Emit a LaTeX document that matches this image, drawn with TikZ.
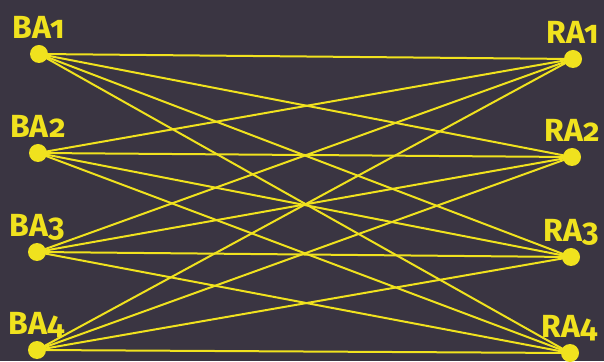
\documentclass[tikz,border=0pt]{standalone}
\usepackage{fontspec}
\setsansfont[Numbers=OldStyle]{Fira Sans}
\usepackage{tikz}
\usetikzlibrary{positioning}
\usetikzlibrary{backgrounds}
\definecolor{wireColor}{HTML}{F0E21E}
\definecolor{boardColor}{HTML}{3A3542}

\begin{document}
\begin{tikzpicture}[x=1pt, y=1pt,
		pin/.style={circle, fill=wireColor, inner sep=0pt, minimum size=18pt},
		lb/.style={font=\fontsize{32}{38}\selectfont\sffamily\bfseries, text=wireColor, inner sep=0pt, text height=22pt, text depth=0pt},
		wire/.style={draw=wireColor, line width=2pt}
		]
		\fill[boardColor] (0,0) rectangle (604,361);
		\useasboundingbox (0,0) rectangle (604,361);

		% left column
		\node[pin] (ba1) at (39,307) {};
		\node[lb, above=6pt of ba1] {BA1};

		\node[pin] (ba2) at (38,208) {};
		\node[lb, above=6pt of ba2] {BA2};

		\node[pin] (ba3) at (37,109) {};
		\node[lb, above=6pt of ba3] {BA3};

		\node[pin] (ba4) at (37,11) {};
		\node[lb, above=6pt of ba4] {BA4};

		% right column
		\node[pin] (ra1) at (573,302) {};
		\node[lb, above=6pt of ra1] {RA1};

		\node[pin] (ra2) at (572,204) {};
		\node[lb, above=6pt of ra2] {RA2};

		\node[pin] (ra3) at (571,104) {};
		\node[lb, above=6pt of ra3] {RA3};

		\node[pin] (ra4) at (570,8) {};
		\node[lb, above=6pt of ra4] {RA4};

		% every left pin to every right pin
		\foreach \i in {1,...,4}
			\foreach \j in {1,...,4}
				\draw[wire] (ba\i.center) -- (ra\j.center);
	\end{tikzpicture}
\end{document}
